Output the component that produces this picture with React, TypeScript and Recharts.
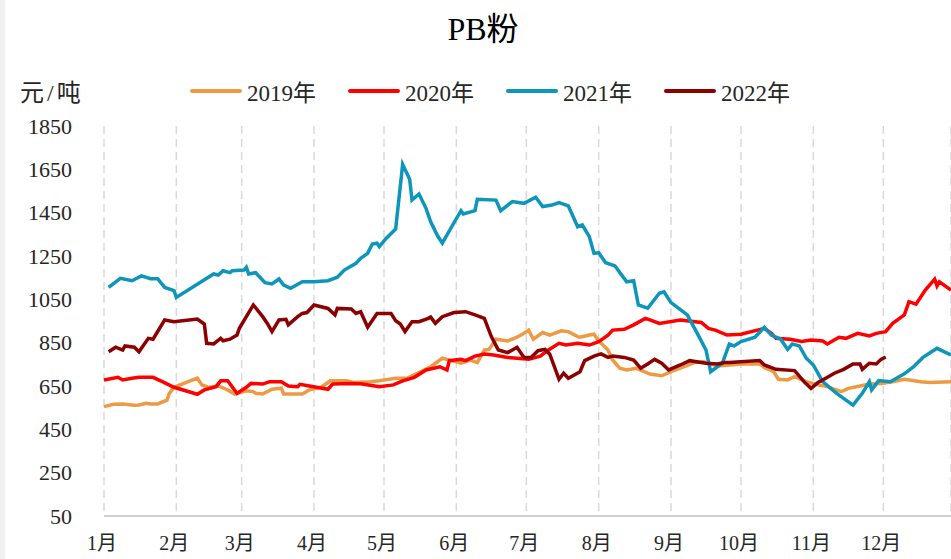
import { LineChart, Line, XAxis, YAxis, CartesianGrid, Legend } from "recharts"

const monthTicks = [0, 31, 59, 90, 120, 151, 181, 212, 243, 273, 304, 334]
const monthLabels = ["1月", "2月", "3月", "4月", "5月", "6月", "7月", "8月", "9月", "10月", "11月", "12月"]
const yTicks = [50, 250, 450, 650, 850, 1050, 1250, 1450, 1650, 1850]

const days2019 = [0, 4, 8, 13, 15, 18, 20, 23, 27, 28, 30, 35, 40, 42, 45, 49, 53, 56, 61, 64, 65, 68, 72, 76, 77, 83, 85, 88, 93, 97, 104, 107, 114, 118, 125, 130, 135, 140, 145, 149, 153, 157, 160, 163, 165, 168, 173, 177, 180, 182, 184, 188, 191, 196, 199, 203, 204, 208, 210, 212, 216, 218, 221, 224, 228, 233, 234, 239, 243, 247, 253, 257, 263, 268, 273, 281, 283, 287, 289, 293, 296, 301, 306, 310, 316, 319, 324, 328, 333, 338, 343, 350, 354, 363]
const price2019 = [555, 566, 567, 561, 562, 570, 567, 567, 585, 616, 644, 666, 686, 655, 644, 650, 632, 613, 628, 624, 616, 613, 635, 640, 613, 613, 613, 632, 644, 674, 674, 666, 670, 674, 686, 686, 712, 739, 778, 767, 755, 770, 758, 816, 819, 866, 858, 875, 893, 908, 866, 897, 885, 905, 901, 878, 875, 885, 889, 858, 816, 770, 732, 724, 732, 709, 705, 697, 716, 732, 758, 762, 742, 747, 752, 752, 736, 716, 681, 678, 693, 670, 655, 647, 624, 639, 650, 659, 662, 670, 681, 670, 666, 670]

const days2020 = [0, 6, 8, 12, 15, 21, 25, 30, 40, 43, 48, 50, 53, 57, 61, 63, 68, 71, 76, 79, 83, 84, 88, 96, 98, 105, 110, 118, 124, 128, 133, 138, 144, 147, 148, 153, 155, 159, 163, 167, 173, 182, 187, 190, 195, 198, 203, 208, 212, 216, 218, 223, 227, 232, 234, 238, 247, 256, 259, 262, 267, 273, 280, 283, 286, 288, 294, 299, 303, 308, 310, 315, 318, 323, 328, 331, 335, 338, 343, 345, 348, 352, 356, 357, 358, 363]
const price2020 = [678, 690, 678, 686, 690, 690, 670, 644, 612, 632, 647, 674, 674, 616, 644, 662, 659, 670, 670, 650, 647, 658, 650, 635, 659, 662, 660, 647, 655, 674, 690, 724, 739, 724, 767, 773, 767, 788, 798, 793, 782, 773, 788, 813, 847, 839, 847, 839, 855, 885, 908, 912, 932, 962, 955, 939, 955, 943, 916, 908, 885, 889, 908, 916, 893, 870, 866, 855, 862, 858, 844, 875, 870, 893, 881, 893, 901, 939, 978, 1039, 1028, 1093, 1143, 1112, 1131, 1093]

const days2021 = [2, 7, 12, 16, 20, 23, 26, 30, 31, 47, 49, 51, 54, 55, 60, 61, 62, 65, 69, 72, 75, 77, 80, 85, 90, 96, 100, 103, 108, 110, 113, 115, 117, 118, 121, 125, 128, 131, 132, 135, 138, 140, 143, 145, 149, 153, 154, 159, 160, 168, 170, 175, 180, 185, 188, 192, 195, 199, 203, 205, 208, 210, 212, 215, 219, 224, 227, 229, 233, 238, 240, 243, 250, 255, 258, 260, 265, 268, 270, 273, 279, 283, 286, 290, 293, 295, 298, 301, 304, 308, 314, 321, 325, 328, 329, 332, 337, 343, 347, 351, 357, 363]
const price2021 = [1105, 1147, 1136, 1158, 1145, 1145, 1105, 1090, 1059, 1167, 1162, 1182, 1173, 1182, 1185, 1198, 1167, 1173, 1127, 1121, 1144, 1116, 1101, 1131, 1131, 1136, 1152, 1185, 1216, 1239, 1262, 1305, 1309, 1293, 1332, 1375, 1673, 1604, 1508, 1536, 1470, 1408, 1342, 1309, 1385, 1459, 1444, 1459, 1512, 1508, 1459, 1501, 1493, 1521, 1478, 1485, 1496, 1481, 1385, 1393, 1339, 1262, 1265, 1219, 1204, 1131, 1136, 1024, 1009, 1078, 1085, 1035, 978, 878, 816, 716, 755, 844, 835, 855, 875, 921, 885, 866, 819, 844, 835, 778, 747, 670, 616, 562, 616, 670, 632, 675, 670, 706, 739, 782, 824, 793]

const days2022 = [2, 5, 8, 9, 13, 15, 19, 21, 26, 30, 40, 43, 44, 47, 50, 51, 54, 57, 58, 64, 68, 70, 72, 75, 78, 79, 83, 85, 87, 90, 96, 99, 100, 106, 108, 110, 113, 117, 123, 125, 127, 129, 132, 135, 139, 140, 142, 145, 150, 155, 159, 163, 166, 169, 173, 177, 180, 183, 186, 189, 191, 195, 197, 199, 204, 206, 210, 213, 216, 218, 223, 227, 230, 233, 236, 239, 242, 247, 251, 258, 263, 266, 268, 281, 283, 288, 296, 300, 303, 306, 308, 313, 317, 321, 324, 325, 328, 331, 333, 335]
const price2022 = [808, 829, 816, 835, 829, 808, 870, 866, 955, 947, 959, 936, 847, 844, 870, 859, 866, 885, 916, 1024, 970, 939, 901, 955, 958, 932, 970, 985, 989, 1024, 1008, 978, 1008, 1005, 985, 993, 921, 985, 985, 951, 936, 901, 947, 947, 962, 968, 939, 970, 989, 993, 978, 962, 878, 816, 804, 829, 782, 782, 813, 819, 798, 681, 709, 686, 716, 767, 788, 798, 782, 788, 782, 770, 732, 752, 773, 755, 724, 747, 767, 755, 752, 758, 758, 768, 747, 727, 721, 670, 639, 666, 678, 709, 727, 752, 752, 727, 755, 752, 773, 784]

const toPoints = (days: number[], vals: number[]) => days.map((d, i) => ({ day: d, value: vals[i] }))

const series = [
  { name: "2019年", color: "#ED9A45", data: toPoints(days2019, price2019) },
  { name: "2020年", color: "#FF0000", data: toPoints(days2020, price2020) },
  { name: "2021年", color: "#0D95BA", data: toPoints(days2021, price2021) },
  { name: "2022年", color: "#8B0000", data: toPoints(days2022, price2022) },
]

const FONT = "'Times New Roman', 'Liberation Serif', 'Noto Sans CJK SC', serif"

const LegendRow = () => (
  <div style={{ display: "flex", fontFamily: FONT, fontSize: 23, color: "#262626" }}>
    {series.map((s) => (
      <div key={s.name} style={{ width: 158, display: "flex", alignItems: "center" }}>
        <span style={{ display: "inline-block", width: 52, height: 4, borderRadius: 2, background: s.color, marginRight: 5 }} />
        <span>{s.name}</span>
      </div>
    ))}
  </div>
)

export default function App() {
  return (
    <div style={{ position: "absolute", left: 0, top: 0, width: 951, height: 559, background: "#fff", overflow: "hidden" }}>
      <div style={{ position: "absolute", left: 0, top: 0, width: 5, height: 559, background: "#f0f0f0" }} />
      <div style={{ position: "absolute", top: 3, left: 0, width: 966, textAlign: "center", fontFamily: FONT, fontSize: 32, color: "#000" }}>
        PB粉
      </div>
      <div style={{ position: "absolute", top: 73, left: 20, fontFamily: FONT, fontSize: 24, letterSpacing: 3, color: "#262626" }}>元/吨</div>
      <LineChart width={951} height={559} margin={{ top: 126, right: 0, bottom: 13, left: 44 }}>
        <CartesianGrid horizontal={false} stroke="#d9d9d9" strokeDasharray="8 5" strokeWidth={1.5} />
        <XAxis
          dataKey="day"
          type="number"
          domain={[0, 363]}
          ticks={monthTicks}
          tickFormatter={(v: number) => monthLabels[monthTicks.indexOf(v)]}
          height={30}
          stroke="#d0d0d0"
          strokeWidth={2}
          tickLine={false}
          tickSize={0}
          tickMargin={20}
          tick={{ fill: "#262626", fontSize: 20, fontFamily: FONT, dx: -2 }}
          interval={0}
        />
        <YAxis
          width={60}
          domain={[50, 1850]}
          ticks={yTicks}
          axisLine={false}
          tickLine={false}
          tickSize={0}
          tickMargin={0}
          tick={{ fill: "#262626", fontSize: 22, fontFamily: FONT, dx: -32 }}
          interval={0}
        />
        <Legend
          layout="vertical"
          align="center"
          verticalAlign="middle"
          content={() => <LegendRow />}
          wrapperStyle={{ position: "absolute", top: 74, left: 190, width: 660 }}
        />
        {series.map((s) => (
          <Line
            key={s.name}
            data={s.data}
            dataKey="value"
            name={s.name}
            type="linear"
            stroke={s.color}
            strokeWidth={3.5}
            dot={false}
            activeDot={false}
            isAnimationActive={false}
          />
        ))}
      </LineChart>
    </div>
  )
}
